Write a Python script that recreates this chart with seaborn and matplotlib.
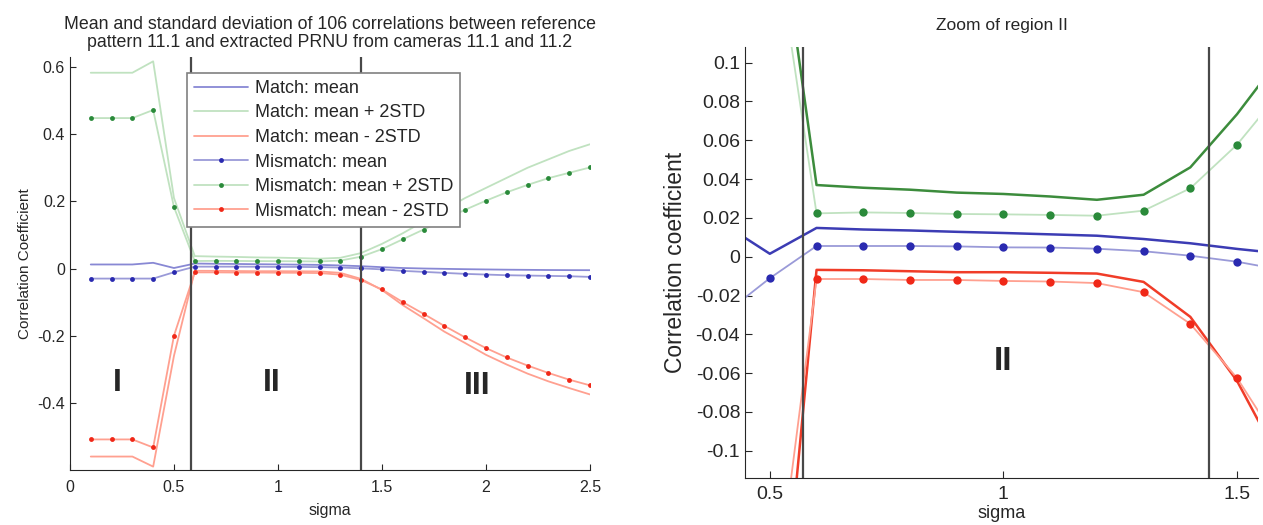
import numpy as np
import pandas as pd
import seaborn as sns
from matplotlib import pyplot as plt

sns.set_style("ticks")
plt.rcParams["font.family"] = ["Liberation Sans", "DejaVu Sans"]
plt.rcParams["xtick.direction"] = "in"
plt.rcParams["ytick.direction"] = "in"

# sigma values of the blur filter
sigma = [0.1, 0.2, 0.3, 0.4, 0.5, 0.6, 0.7, 0.8, 0.9, 1.0, 1.1, 1.2, 1.3,
         1.4, 1.5, 1.6, 1.7, 1.8, 1.9, 2.0, 2.1, 2.2, 2.3, 2.4, 2.5]

match_mean = [0.012, 0.012, 0.012, 0.017, 0.0015, 0.0148, 0.014, 0.0135, 0.0128,
              0.0122, 0.0115, 0.0108, 0.0091, 0.0069, 0.004, 0.0015, 0.0, -0.001,
              -0.002, -0.0028, -0.0035, -0.004, -0.0045, -0.0048, -0.005]
match_plus = [0.583, 0.583, 0.583, 0.617, 0.21, 0.0369, 0.0355, 0.0345, 0.033,
              0.0323, 0.031, 0.0293, 0.0319, 0.046, 0.0734, 0.105, 0.14, 0.175,
              0.21, 0.24, 0.27, 0.30, 0.325, 0.35, 0.37]
match_minus = [-0.56, -0.56, -0.56, -0.59, -0.26, -0.0068, -0.007, -0.0075, -0.008,
               -0.008, -0.0083, -0.0087, -0.013, -0.031, -0.064, -0.109, -0.148,
               -0.188, -0.222, -0.257, -0.286, -0.313, -0.336, -0.356, -0.375]
mis_mean = [-0.03, -0.03, -0.03, -0.03, -0.0111, 0.0055, 0.0055, 0.0055, 0.0053,
            0.0048, 0.0047, 0.0041, 0.0028, 0.0005, -0.0026, -0.007, -0.01, -0.013,
            -0.016, -0.018, -0.02, -0.021, -0.022, -0.023, -0.025]
mis_plus = [0.448, 0.448, 0.448, 0.472, 0.183, 0.0223, 0.0228, 0.0225, 0.022,
            0.0218, 0.0215, 0.0211, 0.0237, 0.0352, 0.0577, 0.087, 0.116, 0.146,
            0.175, 0.202, 0.227, 0.249, 0.269, 0.285, 0.301]
mis_minus = [-0.509, -0.509, -0.509, -0.533, -0.2, -0.0115, -0.0115, -0.012, -0.012,
             -0.0125, -0.0128, -0.0136, -0.0183, -0.0346, -0.0625, -0.1, -0.135,
             -0.171, -0.205, -0.237, -0.265, -0.289, -0.311, -0.331, -0.348]

# region borders
left_bounds = [0.58, 1.40]
right_bounds = [0.57, 1.44]

series = [
    ("Match: mean", match_mean, "blue", False),
    ("Match: mean + 2STD", match_plus, "green", False),
    ("Match: mean - 2STD", match_minus, "red", False),
    ("Mismatch: mean", mis_mean, "blue", True),
    ("Mismatch: mean + 2STD", mis_plus, "green", True),
    ("Mismatch: mean - 2STD", mis_minus, "red", True),
]
dark = {"blue": "#3c3cb4", "green": "#3c8c3c", "red": "#f03c28"}
light = {"blue": "#9a9ad8", "green": "#c0e2c0", "red": "#ffa090"}
marker_col = {"blue": "#2a2ab0", "green": "#2a8a3a", "red": "#f02818"}

fig = plt.figure(figsize=(12.63, 5.25), dpi=100)
ax1 = fig.add_axes([0.0554, 0.1048, 0.4117, 0.7867])
ax2 = fig.add_axes([0.5899, 0.0895, 0.4062, 0.821])

# Left plot: everything drawn in light colours
for label, vals, c, dots in series:
    lc = light[c] if c != "blue" or dots else "#8888d4"
    sns.lineplot(x=sigma, y=vals, ax=ax1, color=lc, lw=1.3, label=label,
                 marker="o" if dots else None, markersize=3.5, markeredgewidth=0,
                 markerfacecolor=marker_col[c])

for b in left_bounds:
    ax1.axvline(b, color="#484848", lw=1.6)

ax1.set_xlim(0, 2.5)
ax1.set_ylim(-0.6, 0.63)
ax1.set_xticks([0, 0.5, 1, 1.5, 2, 2.5])
ax1.set_xticklabels(["0", "0.5", "1", "1.5", "2", "2.5"])
ax1.set_yticks([-0.4, -0.2, 0, 0.2, 0.4, 0.6])
ax1.set_yticklabels(["-0.4", "-0.2", "0", "0.2", "0.4", "0.6"])
ax1.tick_params(labelsize=11.5, length=4)
ax1.tick_params(axis="x", pad=7)
ax1.set_xlabel("sigma", fontsize=11.5, labelpad=6)
ax1.set_ylabel("Correlation Coefficient", fontsize=11)
ax1.set_title("Mean and standard deviation of 106 correlations between reference\n"
              "pattern 11.1 and extracted PRNU from cameras 11.1 and 11.2",
              fontsize=12.8, pad=7, linespacing=1.1)
for txt, xx, yy in [("I", 0.23, -0.34), ("II", 0.97, -0.34), ("III", 1.96, -0.35)]:
    ax1.text(xx, yy, txt, fontsize=23, fontweight="bold", ha="center", va="center")

leg = ax1.legend(loc="upper left", bbox_to_anchor=(0.225, 0.962), fontsize=13,
                 fancybox=False, framealpha=1, edgecolor="#808080",
                 handlelength=3.0, handletextpad=0.35, borderpad=0.4,
                 labelspacing=0.42, borderaxespad=0)
leg.get_frame().set_linewidth(1.2)
sns.despine(ax=ax1)

# Right plot: zoom of region II, match lines dark and mismatch lines light
for label, vals, c, dots in series:
    lc = light[c] if dots else dark[c]
    sns.lineplot(x=sigma, y=vals, ax=ax2, color=lc, lw=1.8 if not dots else 1.3,
                 marker="o" if dots else None, markersize=6, markeredgewidth=0,
                 markerfacecolor=marker_col[c], legend=False)

for b in right_bounds:
    ax2.axvline(b, color="#484848", lw=1.6)

ax2.set_xlim(0.447, 1.545)
ax2.set_ylim(-0.114, 0.108)
ax2.set_xticks([0.5, 1, 1.5])
ax2.set_xticklabels(["0.5", "1", "1.5"])
yt = [-0.1, -0.08, -0.06, -0.04, -0.02, 0, 0.02, 0.04, 0.06, 0.08, 0.1]
ax2.set_yticks(yt)
ax2.set_yticklabels(["-0.1", "-0.08", "-0.06", "-0.04", "-0.02", "0",
                     "0.02", "0.04", "0.06", "0.08", "0.1"])
ax2.tick_params(labelsize=14, length=5)
ax2.tick_params(axis="x", pad=6)
ax2.set_xlabel("sigma", fontsize=13, labelpad=1)
ax2.set_ylabel("Correlation coefficient", fontsize=16.5, labelpad=6)
ax2.set_title("Zoom of region II", fontsize=12.5, pad=12)
ax2.text(1.0, -0.054, "II", fontsize=24, fontweight="bold", ha="center", va="center")
sns.despine(ax=ax2)

fig.savefig("out.png", dpi=100)
